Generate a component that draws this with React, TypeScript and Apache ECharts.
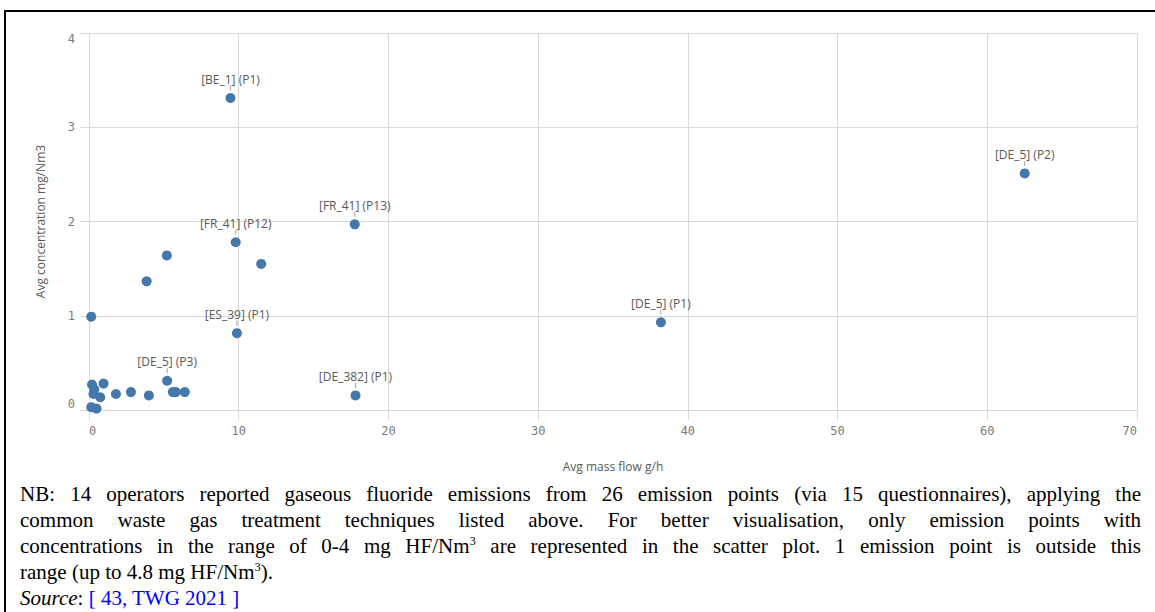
import React, { useEffect, useRef } from "react";
import * as echarts from "echarts";

// Avg mass flow (g/h) per emission point
const massFlow = [
  9.45, 62.5, 17.75, 9.8, 11.5, 5.2, 3.85, 0.15, 9.88, 38.2, 5.22, 17.8,
  0.2, 0.35, 0.3, 0.97, 0.75, 1.8, 2.8, 4.0, 5.6, 5.8, 6.4, 0.15, 0.5,
];
// Avg concentration (mg/Nm3) per emission point
const concentration = [
  3.31, 2.51, 1.97, 1.78, 1.55, 1.64, 1.365, 0.99, 0.815, 0.93, 0.31, 0.155,
  0.27, 0.22, 0.17, 0.28, 0.135, 0.17, 0.19, 0.155, 0.19, 0.19, 0.19, 0.03, 0.015,
];
const pointLabels = [
  "[BE_1] (P1)", "[DE_5] (P2)", "[FR_41] (P13)", "[FR_41] (P12)", "", "", "", "",
  "[ES_39] (P1)", "[DE_5] (P1)", "[DE_5] (P3)", "[DE_382] (P1)",
  "", "", "", "", "", "", "", "", "", "", "", "", "",
];
const xTitle = "Avg mass flow g/h";
const yTitle = "Avg concentration mg/Nm3";

const GRID = "#d9d9d9";

function Chart() {
  const ref = useRef<HTMLDivElement>(null);
  useEffect(() => {
    if (!ref.current) return;
    const chart = echarts.init(ref.current, undefined, { renderer: "svg" });
    const points = massFlow.map((x, i) => [x, concentration[i]]);
    const labelled = points.filter((_, i) => pointLabels[i] !== "");
    chart.setOption({
      animation: false,
      grid: { left: 89, top: 33, width: 1048, height: 377, containLabel: false },
      xAxis: {
        type: "value",
        min: 0,
        max: 70,
        interval: 10,
        name: xTitle,
        nameLocation: "middle",
        nameGap: 50,
        nameTextStyle: { fontFamily: "Open Sans", fontSize: 12, color: "#595959" },
        axisLine: { show: true, lineStyle: { color: GRID } },
        axisTick: { show: true, length: 10, lineStyle: { color: GRID } },
        splitLine: { show: true, lineStyle: { color: GRID } },
        axisLabel: {
          fontFamily: "DejaVu Sans Mono",
          fontSize: 12,
          color: "#7a7a7a",
          margin: 15,
          alignMinLabel: "left",
          alignMaxLabel: "right",
        },
      },
      yAxis: {
        type: "value",
        min: 0,
        max: 4,
        interval: 1,
        name: yTitle,
        nameLocation: "middle",
        nameGap: 43,
        nameTextStyle: { fontFamily: "Open Sans", fontSize: 12, color: "#595959" },
        axisLine: { show: true, lineStyle: { color: GRID } },
        axisTick: { show: true, length: 9, lineStyle: { color: GRID } },
        splitLine: { show: true, lineStyle: { color: GRID } },
        axisLabel: {
          fontFamily: "DejaVu Sans Mono",
          fontSize: 12,
          color: "#7a7a7a",
          margin: 14,
          verticalAlignMinLabel: "bottom",
          verticalAlignMaxLabel: "top",
        },
      },
      series: [
        {
          type: "scatter",
          data: labelled,
          symbol: "rect",
          symbolSize: [1, 5],
          symbolOffset: [0, -10],
          itemStyle: { color: "#8a8a8a" },
          silent: true,
          z: 1,
        },
        {
          type: "scatter",
          data: points,
          symbol: "circle",
          symbolSize: 10,
          itemStyle: { color: "#4477aa", opacity: 1 },
          label: {
            show: true,
            position: "top",
            distance: 8,
            fontFamily: "Open Sans",
            fontSize: 12,
            color: "#595959",
            formatter: (p: any) => pointLabels[p.dataIndex],
          },
          z: 2,
        },
      ],
    });
    return () => chart.dispose();
  }, []);
  return (
    <div
      ref={ref}
      style={{ position: "absolute", left: 0, top: 0, width: 1155, height: 480 }}
    />
  );
}

const captionLines = [
  "NB: 14 operators reported gaseous fluoride emissions from 26 emission points (via 15 questionnaires), applying the",
  "common waste gas treatment techniques listed above. For better visualisation, only emission points with",
];

export default function App() {
  const lineStyle: React.CSSProperties = {
    textAlign: "justify",
    textAlignLast: "justify" as any,
    whiteSpace: "nowrap",
    height: 26,
  };
  const sup: React.CSSProperties = { fontSize: "0.6em", verticalAlign: "super", lineHeight: 0 };
  return (
    <div
      style={{
        position: "fixed",
        left: 0,
        top: 0,
        width: 1155,
        height: 612,
        overflow: "hidden",
        background: "#fff",
      }}
    >
      <Chart />
      <div
        style={{
          position: "absolute",
          left: 4,
          top: 10,
          width: 1200,
          height: 700,
          border: "2px solid #000",
          boxSizing: "border-box",
          pointerEvents: "none",
        }}
      />
      <div
        style={{
          position: "absolute",
          left: 20,
          top: 481,
          width: 1121,
          fontFamily: "'Liberation Serif', 'Times New Roman', serif",
          fontSize: 21,
          lineHeight: "26px",
          color: "#000",
        }}
      >
        <div style={{ ...lineStyle, whiteSpace: "normal" }}>{captionLines[0]}</div>
        <div style={{ ...lineStyle, whiteSpace: "normal" }}>{captionLines[1]}</div>
        <div style={{ ...lineStyle, whiteSpace: "normal" }}>
          concentrations in the range of 0-4 mg HF/Nm<span style={sup}>3</span> are represented in the scatter plot. 1 emission point is outside this
        </div>
        <div style={{ height: 26 }}>
          range (up to 4.8 mg HF/Nm<span style={sup}>3</span>).
        </div>
        <div style={{ height: 26 }}>
          <i>Source</i>: <span style={{ color: "#0000ff" }}>[ 43, TWG 2021 ]</span>
        </div>
      </div>
    </div>
  );
}
